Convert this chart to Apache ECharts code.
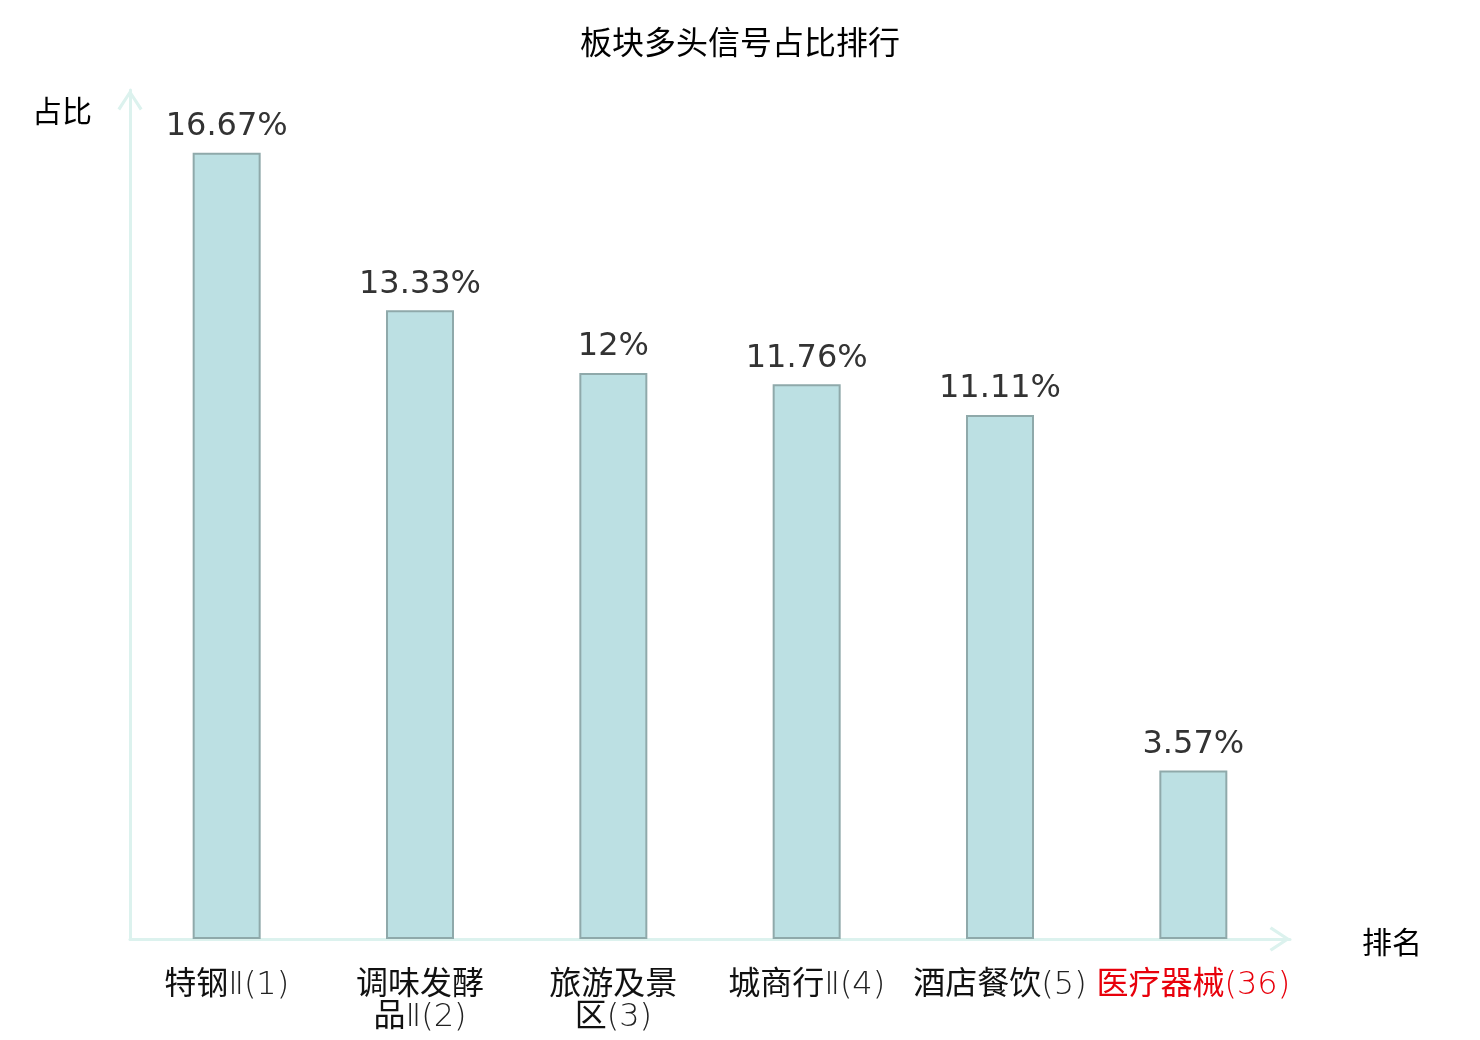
<!DOCTYPE html>
<html>
<head>
<meta charset="utf-8">
<script src="https://cdn.jsdelivr.net/npm/echarts@6/dist/echarts.min.js"></script>
<style>
  html, body { margin: 0; padding: 0; background: #fff; }
  #chart { width: 1480px; height: 1040px; }
</style>
</head>
<body>
<div id="chart"></div>
<script>
var chart = echarts.init(document.getElementById('chart'));

// 数据区域
const sectors = ['特钢Ⅱ', '调味发酵品Ⅱ', '旅游及景区', '城商行Ⅱ', '酒店餐饮', '医疗器械'];
const ranks = [1, 2, 3, 4, 5, 36];
const ratios = [16.67, 13.33, 12, 11.76, 11.11, 3.57];
const focusSector = '医疗器械';

const FONT = '"DejaVu Sans", "Noto Sans CJK SC", sans-serif';

// 超过4个字换行
function wrapName(name) {
  return name.length > 4 ? name.slice(0, 4) + '\n' + name.slice(4) : name;
}

const categories = sectors.map(function (s, i) {
  return s + '(' + ranks[i] + ')';
});

// 向上的开口箭头, 坐标轴会自动旋转
const chevron = 'path://M0,19 L12.5,0 L25,19 L22.4,21 L12.5,5.6 L2.6,21 Z';

const option = {
  backgroundColor: '#fff',
  textStyle: { fontFamily: FONT },
  title: {
    text: '板块多头信号占比排行',
    left: 'center',
    top: 25,
    textStyle: { fontSize: 32, fontWeight: 'normal', color: '#000', fontFamily: FONT }
  },
  grid: { left: 130, right: 190, top: 90, bottom: 101 },
  xAxis: {
    type: 'category',
    data: categories,
    name: '{a|排名}',
    nameGap: 72,
    nameTextStyle: {
      rich: { a: { fontSize: 30, color: '#000', fontFamily: FONT, padding: [12, 0, 0, 0] } }
    },
    axisTick: { show: false },
    axisLine: {
      lineStyle: { color: '#dcf2ee', width: 3 },
      symbol: ['none', chevron],
      symbolSize: [25, 21],
      symbolOffset: [0, -10]
    },
    axisLabel: {
      interval: 0,
      margin: 31,
      formatter: function (value, idx) {
        const hot = sectors[idx] === focusSector;
        const wrapped = wrapName(sectors[idx]);
        const cjk = wrapped.replace(/Ⅱ$/, '');
        const tail = wrapped.slice(cjk.length) + '(' + ranks[idx] + ')';
        return '{' + (hot ? 'nh' : 'n') + '|' + cjk + '}{' + (hot ? 'rh' : 'r') + '|' + tail + '}';
      },
      rich: {
        n: { fontSize: 32, color: '#111', lineHeight: 32, fontFamily: FONT },
        r: { fontSize: 32, color: '#222', fontWeight: 200, lineHeight: 32, fontFamily: FONT },
        nh: { fontSize: 32, color: '#e8000b', lineHeight: 32, fontFamily: FONT },
        rh: { fontSize: 32, color: '#e8000b', fontWeight: 200, lineHeight: 32, fontFamily: FONT }
      }
    }
  },
  yAxis: {
    type: 'value',
    min: 0,
    max: 18,
    name: '{a|占比}',
    nameLocation: 'end',
    nameGap: -20,
    nameTextStyle: {
      align: 'right',
      verticalAlign: 'middle',
      rich: { a: { fontSize: 30, color: '#000', fontFamily: FONT, padding: [8, 38, 0, 0] } }
    },
    splitLine: { show: false },
    axisTick: { show: false },
    axisLabel: { show: false },
    axisLine: {
      show: true,
      lineStyle: { color: '#dcf2ee', width: 3 },
      symbol: ['none', chevron],
      symbolSize: [25, 21],
      symbolOffset: [0, -10]
    }
  },
  series: [{
    type: 'bar',
    data: ratios,
    barWidth: 68,
    itemStyle: { color: '#bce0e3', borderColor: '#8fa9aa', borderWidth: 2 },
    label: {
      show: true,
      position: 'top',
      distance: 10,
      fontSize: 32,
      color: '#333',
      fontFamily: FONT,
      formatter: '{c}%'
    }
  }]
};
chart.setOption(option);
</script>
</body>
</html>
